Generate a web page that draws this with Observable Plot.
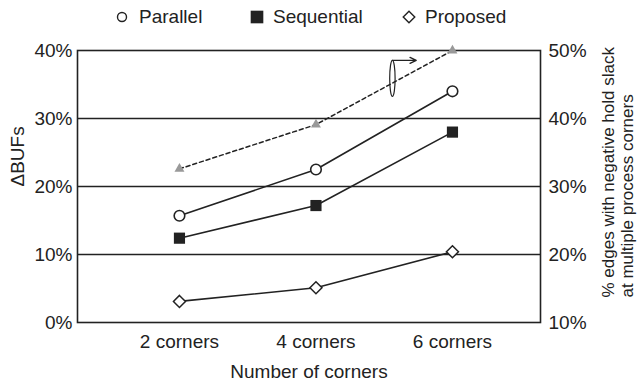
<!DOCTYPE html>
<html>
<head>
<meta charset="utf-8">
<script src="https://cdn.jsdelivr.net/npm/d3@7"></script>
<script src="https://cdn.jsdelivr.net/npm/@observablehq/plot@0.6"></script>
<style>
  html, body { margin: 0; padding: 0; background: #fff; }
  body { width: 639px; height: 383px; overflow: hidden; font-family: "Liberation Sans", Arial, sans-serif; color: #222; }
  #legend { position: relative; height: 34px; font-size: 19px; }
  .item { position: absolute; top: 0; height: 34px; display: flex; align-items: center; }
  .item svg { overflow: visible; }
</style>
</head>
<body>
<div id="legend"></div>
<div id="chart"></div>
<script>
// ---- data ----
const categories = ["2 corners", "4 corners", "6 corners"];
const corners = [2, 4, 6];
const parallel = [15.7, 22.5, 34.0];
const sequential = [12.4, 17.2, 28.0];
const proposed = [3.1, 5.1, 10.4];
const edgesPct = [32.6, 39.1, 50.0];          // right axis (%)
const leftTicks = [0, 10, 20, 30, 40];
const rightTicks = [10, 20, 30, 40, 50];
const seriesNames = ["Parallel", "Sequential", "Proposed"];
const annotation = [{x: 5.12, y: 35.9, x2: 5.47, ytop: 38.55}];

const rightOffset = 10; // right value = left value + 10
const rows = (vals) => corners.map((c, i) => ({c, v: vals[i]}));
const ink = "#222";

// ellipse symbol for annotation
const ellipseSymbol = {
  draw(ctx) {
    const rx = 2.7, ry = 18, k = 0.5523;
    ctx.moveTo(0, -ry);
    ctx.bezierCurveTo(k * rx, -ry, rx, -k * ry, rx, 0);
    ctx.bezierCurveTo(rx, k * ry, k * rx, ry, 0, ry);
    ctx.bezierCurveTo(-k * rx, ry, -rx, k * ry, -rx, 0);
    ctx.bezierCurveTo(-rx, -k * ry, -k * rx, -ry, 0, -ry);
    ctx.closePath();
  }
};

const chart = Plot.plot({
  width: 639,
  height: 349,
  marginTop: 16,
  marginBottom: 61,
  marginLeft: 77,
  marginRight: 99,
  style: {fontFamily: "'Liberation Sans', Arial, sans-serif", fontSize: "19px", color: ink, background: "white"},
  x: {type: "linear", domain: [0.506, 7.29]},
  y: {domain: [0, 40]},
  marks: [
    Plot.ruleY([10, 20, 30], {stroke: ink, strokeWidth: 1.6}),
    Plot.frame({stroke: ink, strokeWidth: 1.6}),
    Plot.axisX(corners, {tickSize: 0, tickPadding: 12, tickFormat: d => categories[corners.indexOf(d)], label: null}),
    Plot.axisY(leftTicks, {tickSize: 0, tickPadding: 5, tickFormat: d => d + "%", label: null}),
    Plot.axisY(rightTicks.map(v => v - rightOffset), {anchor: "right", tickSize: 0, tickPadding: 8, tickFormat: d => (d + rightOffset) + "%", label: null}),
    Plot.text(["Number of corners"], {frameAnchor: "bottom", dy: 49, lineAnchor: "middle", fill: ink}),
    Plot.text(["\u0394BUFs"], {frameAnchor: "left", dx: -60, rotate: -90, lineAnchor: "middle", fill: ink}),
    Plot.text(["% edges with negative hold slack\nat multiple process corners"], {frameAnchor: "bottom-right", dx: 77, dy: -25, rotate: -90, textAnchor: "start", lineAnchor: "middle", lineHeight: 1.1, fontSize: 17, fill: ink}),
    // dashed right-axis series
    Plot.line(rows(edgesPct), {x: "c", y: d => d.v - rightOffset, stroke: ink, strokeWidth: 1.5, strokeDasharray: "4,3"}),
    Plot.dot(rows(edgesPct), {x: "c", y: d => d.v - rightOffset, symbol: "triangle", r: 3.7, fill: "#999", stroke: "none"}),
    // left-axis series
    Plot.line(rows(parallel), {x: "c", y: "v", stroke: ink, strokeWidth: 1.6}),
    Plot.line(rows(sequential), {x: "c", y: "v", stroke: ink, strokeWidth: 1.6}),
    Plot.line(rows(proposed), {x: "c", y: "v", stroke: ink, strokeWidth: 1.6}),
    Plot.dot(rows(parallel), {x: "c", y: "v", symbol: "circle", r: 5.3, fill: "white", stroke: ink, strokeWidth: 1.6}),
    Plot.dot(rows(sequential), {x: "c", y: "v", symbol: "square", r: 6.3, fill: ink, stroke: "none"}),
    Plot.dot(rows(proposed), {x: "c", y: "v", symbol: "diamond2", r: 5.4, fill: "white", stroke: ink, strokeWidth: 1.5}),
    // annotation: ellipse + arrow pointing to right axis
    Plot.dot(annotation, {x: "x", y: "y", symbol: ellipseSymbol, fill: "none", stroke: ink, strokeWidth: 1.2}),
    Plot.arrow(annotation, {x1: "x", y1: "ytop", x2: "x2", y2: "ytop", stroke: ink, strokeWidth: 1.3, headLength: 8, headAngle: 50})
  ]
});
document.getElementById("chart").appendChild(chart);

// ---- legend ----
const legendSpec = [
  {name: seriesNames[0], sym: d3.symbolCircle, size: 64, fill: "white", stroke: ink, center: 122, textLeft: 139},
  {name: seriesNames[1], sym: d3.symbolSquare, size: 160, fill: ink, stroke: "none", center: 257, textLeft: 273},
  {name: seriesNames[2], sym: d3.symbolDiamond2, size: 85, fill: "white", stroke: ink, center: 409, textLeft: 425}
];
const legend = d3.select("#legend");
legendSpec.forEach(s => {
  const it = legend.append("div").attr("class", "item").style("left", (s.center - 6) + "px");
  const svg = it.append("svg").attr("width", 12).attr("height", 12).attr("viewBox", "-6 -6 12 12");
  svg.append("path").attr("d", d3.symbol(s.sym, s.size)()).attr("fill", s.fill).attr("stroke", s.stroke).attr("stroke-width", 1.4);
  legend.append("div").attr("class", "item").style("left", s.textLeft + "px").text(s.name);
});
</script>
</body>
</html>
